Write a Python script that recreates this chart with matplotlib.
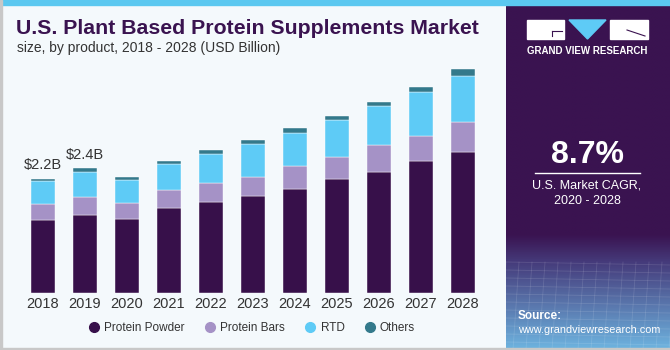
import numpy as np
import matplotlib
matplotlib.use("Agg")
import matplotlib.pyplot as plt
from matplotlib.patches import Rectangle, Polygon

plt.rcParams["font.family"] = ["Liberation Sans", "DejaVu Sans"]

# ==========================
# DATA (USD Billion)
# ==========================

years = ["2018", "2019", "2020", "2021", "2022", "2023",
         "2024", "2025", "2026", "2027", "2028"]

protein_powder = [1.41, 1.51, 1.43, 1.63, 1.76, 1.88, 2.01, 2.21, 2.33, 2.55, 2.73]
protein_bars = [0.30, 0.34, 0.30, 0.35, 0.36, 0.36, 0.45, 0.41, 0.54, 0.49, 0.58]
rtd = [0.45, 0.49, 0.46, 0.51, 0.57, 0.65, 0.64, 0.72, 0.74, 0.85, 0.88]
others = [0.05, 0.08, 0.06, 0.07, 0.08, 0.07, 0.10, 0.09, 0.09, 0.09, 0.14]

series_names = ["Protein Powder", "Protein Bars", "RTD", "Others"]
series_colors = ["#37104a", "#a592c6", "#5ecbf6", "#33798b"]

labels = {0: "$2.2B", 1: "$2.4B"}

W, H = 670, 350
BG = "#f4f9fc"
PANEL = "#3a1350"


def fx(x):
    return x / W


def fy(y):
    return 1 - y / H


fig = plt.figure(figsize=(W / 100, H / 100), dpi=100)
fig.patch.set_facecolor(BG)

# ==========================
# BARS
# ==========================

ax = fig.add_axes([fx(20), fy(292.5), fx(470), (292.5 - 60) / H])
ax.set_facecolor("none")

x = np.arange(len(years))
data = [protein_powder, protein_bars, rtd, others]
bottom = np.zeros(len(years))

for values, name, color in zip(data, series_names, series_colors):
    ax.bar(x, values, bottom=bottom, width=0.57, color=color,
           edgecolor="#ffffff", linewidth=0.3, label=name)
    bottom += np.array(values)

for i, txt in labels.items():
    ax.text(x[i], bottom[i] + 0.12, txt, ha="center", va="bottom",
            fontsize=10.5, color="#333333")

ax.set_xlim(-0.548, 10.643)
ax.set_ylim(0, 4.51)
ax.set_xticks(x)
ax.set_xticklabels(years, fontsize=10.5, color="#333333")
ax.tick_params(axis="x", length=0, pad=3)
ax.set_yticks([])
for s in ax.spines.values():
    s.set_visible(False)

# legend with round markers
handles = [plt.Line2D([], [], marker="o", linestyle="", markersize=7,
                      color=c) for c in series_colors]
fig.legend(handles, series_names, loc="center", bbox_to_anchor=(fx(252), fy(328)),
           ncol=4, frameon=False, fontsize=8.5, handlelength=0.9,
           handletextpad=0.4, columnspacing=1.7, labelcolor="#333333")

# ==========================
# TITLE
# ==========================

fig.text(fx(16), fy(28), "U.S. Plant Based Protein Supplements Market",
         fontsize=15.3, fontweight="bold", color="#3a1350", va="center")
fig.text(fx(17), fy(48), "size, by product, 2018 - 2028 (USD Billion)",
         fontsize=10, color="#333333", va="center")

# ==========================
# RIGHT PANEL
# ==========================

pax = fig.add_axes([fx(506), 0, fx(164), 1])
pax.set_xlim(0, 164)
pax.set_ylim(H, 0)
pax.axis("off")
grad = np.linspace(0, 1, 200)
top = np.array([0x3a, 0x13, 0x50]) / 255
low = np.array([0x45, 0x3a, 0x7a]) / 255
bot = np.array([0x6e, 0xb4, 0xe0]) / 255
img = np.zeros((200, 1, 3))
for i, g in enumerate(grad):
    yy = g * H
    if yy < 235:
        img[i, 0] = top
    elif yy < 262:
        t = (yy - 235) / 27
        img[i, 0] = top * (1 - t) + low * t
    else:
        t = (yy - 262) / (H - 262)
        img[i, 0] = low * (1 - t) + bot * t
pax.imshow(img, extent=[0, 164, H, 0], aspect="auto")
# faint grid texture on lower part
for k in range(12):
    yy = 262 + k * 8
    pax.plot([0, 164], [yy, yy + 3], color="#ffffff", alpha=0.12, lw=0.6)
for k in range(14):
    xx = k * 13
    pax.plot([xx, xx - 6], [262, H], color="#ffffff", alpha=0.12, lw=0.6)

# logo
pax.add_patch(Rectangle((21, 20), 36.5, 19, color="white"))
pax.add_patch(Polygon([[63, 20], [100, 20], [81.5, 39]], color="#5ecbf6"))
pax.add_patch(Rectangle((104, 20), 37.5, 19, color="white"))
pax.plot([46, 56], [31, 31], color=PANEL, lw=0.8)
pax.plot([46, 46], [31, 36], color=PANEL, lw=0.8)
pax.plot([121, 139], [30, 36], color=PANEL, lw=0.8)
pax.text(81, 51, "GRAND VIEW RESEARCH", color="white", fontsize=7,
         fontweight="bold", ha="center", va="center")

pax.text(81, 155, "8.7%", color="white", fontsize=23, fontweight="bold",
         ha="center", va="center")
pax.plot([29, 134], [173, 173], color="white", lw=1)
pax.text(81, 186, "U.S. Market CAGR,", color="white", fontsize=9,
         ha="center", va="center")
pax.text(81, 201, "2020 - 2028", color="white", fontsize=9,
         ha="center", va="center")

pax.text(12, 316, "Source:", color="white", fontsize=8.5, fontweight="bold",
         va="center")
pax.text(12, 330, "www.grandviewresearch.com", color="white", fontsize=7.8,
         va="center")

# frame pieces
fig.patches.append(Rectangle((0, fy(5)), 1, 5 / H, transform=fig.transFigure,
                             color="#5bc8f0", zorder=5))
fig.patches.append(Rectangle((0, 0), 1, 2 / H, transform=fig.transFigure,
                             color="#c8c8c8", zorder=5))
fig.patches.append(Rectangle((0, 0), 1.5 / W, 1, transform=fig.transFigure,
                             color="#c8c8c8", zorder=5))

fig.savefig("out.png", dpi=100, facecolor=fig.get_facecolor())
